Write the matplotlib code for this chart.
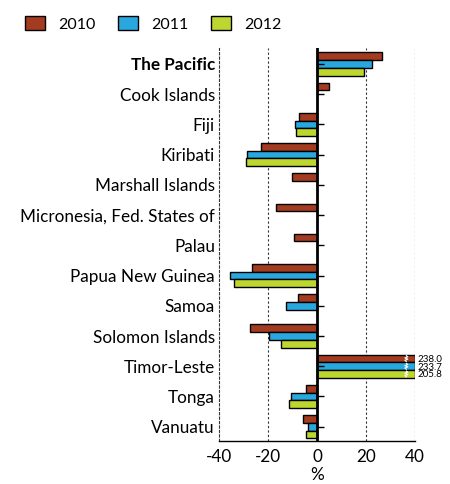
import numpy as np
import matplotlib.pyplot as plt
from matplotlib.patches import Patch
from matplotlib import markers

plt.rcParams['font.family'] = ['Lato', 'DejaVu Sans']
plt.rcParams['axes.unicode_minus'] = False

countries = ["The Pacific", "Cook Islands", "Fiji", "Kiribati", "Marshall Islands",
             "Micronesia, Fed. States of", "Palau", "Papua New Guinea", "Samoa",
             "Solomon Islands", "Timor-Leste", "Tonga", "Vanuatu"]
years = ["2010", "2011", "2012"]
nan = np.nan
v2010 = [26.4, 4.9, -7.2, -22.9, -10.3, -16.7, -9.3, -26.4, -7.9, -27.3, 238.0, -4.6, -5.8]
v2011 = [22.4, nan, -8.8, -28.7, nan, nan, nan, -35.5, -12.7, -19.7, 233.7, -10.7, -3.8]
v2012 = [19.3, nan, -8.4, -29.0, nan, nan, nan, -33.9, nan, -14.8, 205.8, -11.6, -4.6]
colors = ["#A33B20", "#29A8E0", "#BED730"]
xticks = [-40, -20, 0, 20, 40]

xmin, xmax = -40, 40
bh = 0.255
fs = 12.3

fig = plt.figure(figsize=(4.5, 4.84), dpi=100)
ax = fig.add_axes([0.487, 0.089, 0.435, 0.812])

y = np.arange(len(countries))
for i, (vals, c) in enumerate(zip([v2010, v2011, v2012], colors)):
    vals = np.array(vals, dtype=float)
    yy = y + (i - 1) * bh
    m = ~np.isnan(vals)
    ax.barh(yy[m], np.clip(vals[m], xmin, xmax), height=bh, color=c,
            edgecolor='black', linewidth=1, zorder=3)
    # bars running past the axis: break mark + value
    for yi, v in zip(yy[m], vals[m]):
        if v > xmax:
            zx = xmax - 3.5 + np.array([0, 0.6, -0.6, 0.6, -0.6, 0])
            zy = yi + np.linspace(-bh / 2 + 0.03, bh / 2 - 0.03, 6)
            ax.plot(zx, zy, color='white', lw=0.8, zorder=4)
            ax.annotate(f"{v:.1f}", (xmax, yi), xytext=(2, 0),
                        textcoords='offset points', ha='left',
                        va='center_baseline', fontsize=7,
                        annotation_clip=False)

ax.set_xlim(xmin, xmax)
ax.set_ylim(len(countries) - 0.53, -0.53)

for x in [-20, 20, 40]:
    ax.axvline(x, color='#333333', lw=0.8, ls=(0, (2, 2)), zorder=1)
ax.axvline(0, color='black', lw=2, zorder=5)
ax.plot(np.zeros(len(y)), y, ls='', marker=markers.TICKRIGHT, ms=5,
        mew=1, color='black', zorder=5)

for s in ['top', 'right']:
    ax.spines[s].set_visible(False)
ax.spines['left'].set_linestyle((0, (2, 2)))
ax.spines['left'].set_linewidth(0.8)
ax.spines['left'].set_color('#333333')
ax.spines['bottom'].set_linewidth(1)

ax.set_yticks(y)
ax.set_yticklabels(countries, fontsize=fs)
ax.get_yticklabels()[0].set_fontweight('bold')
ax.tick_params(axis='y', length=0, pad=3)
ax.set_xticks(xticks)
ax.set_xticklabels([str(t) for t in xticks], fontsize=fs)
ax.tick_params(axis='x', length=0, pad=6)
ax.set_xlabel("%", fontsize=fs, labelpad=1)

handles = [Patch(facecolor=c, edgecolor='black', linewidth=1) for c in colors]
fig.legend(handles, years, loc='upper left', bbox_to_anchor=(25 / 450, 1 - 16 / 484),
           ncol=3, frameon=False, fontsize=11.5, handlelength=1.25,
           handleheight=1.0, handletextpad=0.8, columnspacing=1.45,
           borderpad=0, borderaxespad=0)

fig.savefig("out.png", dpi=100)
